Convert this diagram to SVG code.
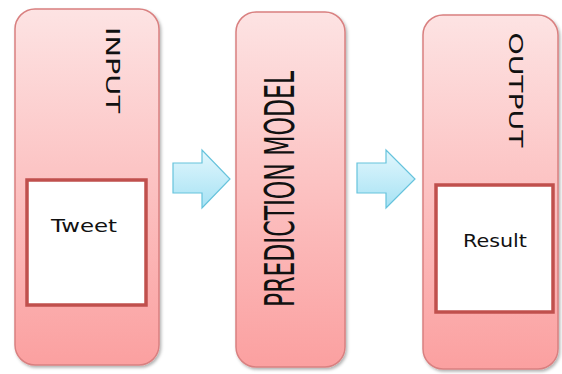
<svg xmlns="http://www.w3.org/2000/svg" width="562" height="374" viewBox="0 0 562 374">
<style>
.panel{fill:url(#pg);stroke:#d98080;stroke-width:1.5}
.inner{fill:#fff;stroke:#c0504d;stroke-width:3.5}
.arrow{fill:url(#ag);stroke:#66c3dc;stroke-width:1.2}
.title{font-family:"DejaVu Sans Condensed","DejaVu Sans",sans-serif;fill:#111;font-stretch:condensed}
.lbl{font-family:"DejaVu Sans",sans-serif;font-size:17px;fill:#111;text-anchor:middle}
</style>
<defs>
<linearGradient id="pg" x1="0" y1="0" x2="0" y2="1">
<stop offset="0" stop-color="#fde3e3"/>
<stop offset="1" stop-color="#fba0a0"/>
</linearGradient>
<linearGradient id="ag" x1="0" y1="0" x2="0" y2="1">
<stop offset="0" stop-color="#e2f7fd"/>
<stop offset="1" stop-color="#a6e2f4"/>
</linearGradient>
<filter id="sh" x="-10%" y="-10%" width="130%" height="130%">
<feDropShadow dx="1.5" dy="2" stdDeviation="1.5" flood-color="#000" flood-opacity="0.3"/>
</filter>
</defs>
<g id="input">
<rect class="panel" x="15" y="9" width="144" height="356" rx="20" filter="url(#sh)"/>
<text class="title" transform="translate(106,70) rotate(90)" font-size="20" text-anchor="middle" textLength="86" lengthAdjust="spacingAndGlyphs">INPUT</text>
<rect class="inner" x="27" y="180" width="119" height="125"/>
<text class="lbl" x="84" y="232" textLength="66" lengthAdjust="spacingAndGlyphs">Tweet</text>
</g>
<g id="prediction">
<rect class="panel" x="236" y="12" width="109" height="355" rx="20" filter="url(#sh)"/>
<text class="title" transform="translate(294,189) rotate(-90)" font-size="40" text-anchor="middle" textLength="236" lengthAdjust="spacingAndGlyphs">PREDICTION MODEL</text>
</g>
<g id="output">
<rect class="panel" x="423" y="15" width="135" height="354" rx="20" filter="url(#sh)"/>
<text class="title" transform="translate(509,90) rotate(90)" font-size="20" text-anchor="middle" textLength="115" lengthAdjust="spacingAndGlyphs">OUTPUT</text>
<rect class="inner" x="436" y="185" width="117" height="127"/>
<text class="lbl" x="495" y="247" textLength="64" lengthAdjust="spacingAndGlyphs">Result</text>
</g>
<g id="connectors">
<path class="arrow" d="M173,163 H202 V150 L230,179 L202,208 V193 H173 Z"/>
<path class="arrow" d="M357,163 H386 V150 L415,179 L386,208 V193 H357 Z"/>
</g>
</svg>
